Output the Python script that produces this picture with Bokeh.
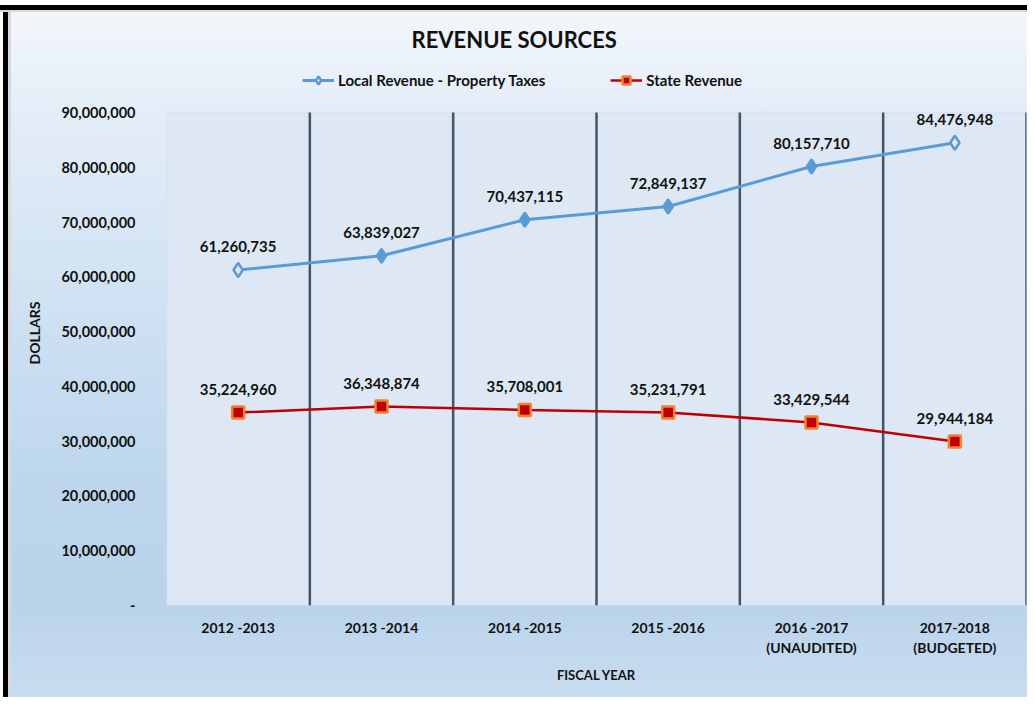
from bokeh.plotting import figure
from bokeh.models import (ColumnDataSource, FixedTicker, NumeralTickFormatter, Range1d,
                          LabelSet, Legend, BoxAnnotation)
from bokeh.embed import file_html
from bokeh.resources import INLINE
from bokeh.core.properties import value

# ---- data ----
categories = ["2012 -2013", "2013 -2014", "2014 -2015", "2015 -2016",
              "2016 -2017\n(UNAUDITED)", "2017-2018\n(BUDGETED)"]
local_revenue = [61260735, 63839027, 70437115, 72849137, 80157710, 84476948]
state_revenue = [35224960, 36348874, 35708001, 35231791, 33429544, 29944184]
y_ticks = [0, 10000000, 20000000, 30000000, 40000000, 50000000,
           60000000, 70000000, 80000000, 90000000]
series_names = ["Local Revenue - Property Taxes", "State Revenue"]

FONT = "Lato"
n = len(categories)
x_pos = [i + 0.5 for i in range(n)]
bounds = list(range(1, n + 1))
y_top = y_ticks[-1]
y_view_top = 99500000  # headroom above the plot panel for the legend

local_fill = ["#dde8f4", "#5b9bd5", "#5b9bd5", "#5b9bd5", "#5b9bd5", "#dde8f4"]

src_local = ColumnDataSource(dict(x=x_pos, y=local_revenue,
                                  lab=[f"{v:,}" for v in local_revenue], fill=local_fill))
src_state = ColumnDataSource(dict(x=x_pos, y=state_revenue,
                                  lab=[f"{v:,}" for v in state_revenue]))

p = figure(width=1027, height=697,
           x_range=Range1d(0, n), y_range=Range1d(y_ticks[0], y_view_top),
           output_backend="svg", toolbar_location=None,
           min_border_left=166, min_border_right=1, min_border_bottom=92, min_border_top=60)

p.styles = {
    "background": ("linear-gradient(180deg, #ffffff 0px, #ffffff 5px, #000000 5px, #000000 10px, "
                   "#d9d9d9 10px, #d9d9d9 12px, transparent 12px), "
                   "linear-gradient(90deg, #ffffff 0px, #ffffff 3px, #000000 3px, #000000 8px, "
                   "#d9d9d9 8px, #d9d9d9 11px, transparent 11px), "
                   "linear-gradient(180deg, #f5f8fc 0%, #e6eef8 14%, #d2e3f3 40%, #bdd6ed 70%, "
                   "#b9d3eb 86%, #c9dcef 100%)"),
}
p.border_fill_color = None
p.background_fill_color = None
p.outline_line_color = None

# plot panel (area below the top value)
p.add_layout(BoxAnnotation(left=0, right=n, bottom=y_ticks[0], top=y_top,
                           fill_color="#dde8f4", fill_alpha=1,
                           line_color="#cdd3da", line_width=2, level="underlay"))

# title
p.title.text = "REVENUE SOURCES"
p.title.text_font = FONT
p.title.text_font_size = "22px"
p.title.text_font_style = "bold"
p.title.text_color = "#111111"
p.title.align = "left"
p.title.offset = 245
p.title.standoff = 15

# grid: vertical separators between fiscal years
p.xgrid.grid_line_color = None
p.ygrid.grid_line_color = None
p.segment(x0=bounds, y0=[y_ticks[0]] * n, x1=bounds, y1=[y_top] * n,
          line_color="#46546a", line_width=2.5)

# x axis
p.xaxis.ticker = FixedTicker(ticks=x_pos)
p.xaxis.major_label_overrides = {x: c for x, c in zip(x_pos, categories)}
p.xaxis.axis_line_color = None
p.xaxis.major_tick_line_color = None
p.xaxis.minor_tick_line_color = None
p.xaxis.major_label_text_font = FONT
p.xaxis.major_label_text_font_size = "14px"
p.xaxis.major_label_text_font_style = "bold"
p.xaxis.major_label_text_color = "#111111"
p.xaxis.major_label_standoff = 7
p.xaxis.axis_label = "FISCAL YEAR"
p.xaxis.axis_label_text_font = FONT
p.xaxis.axis_label_text_font_size = "13px"
p.xaxis.axis_label_text_font_style = "bold"
p.xaxis.axis_label_text_color = "#111111"
p.xaxis.axis_label_standoff = 8

# y axis
p.yaxis.ticker = FixedTicker(ticks=y_ticks)
p.yaxis.formatter = NumeralTickFormatter(format="0,0")
p.yaxis.major_label_overrides = {y_ticks[0]: "-"}
p.yaxis.axis_line_color = None
p.yaxis.major_tick_line_color = None
p.yaxis.minor_tick_line_color = None
p.yaxis.major_label_text_font = FONT
p.yaxis.major_label_text_font_size = "14.5px"
p.yaxis.major_label_text_font_style = "bold"
p.yaxis.major_label_text_color = "#111111"
p.yaxis.major_label_standoff = 25
p.yaxis.axis_label = "DOLLARS"
p.yaxis.axis_label_text_font = FONT
p.yaxis.axis_label_text_font_size = "14px"
p.yaxis.axis_label_text_font_style = "bold"
p.yaxis.axis_label_text_color = "#111111"
p.yaxis.axis_label_standoff = 15

# series
l1 = p.line("x", "y", source=src_local, line_color="#5b9bd5", line_width=3)
m1 = p.scatter("x", "y", source=src_local, marker="diamond", size=14,
               fill_color="fill", line_color="#5b9bd5", line_width=2.5)
l2 = p.line("x", "y", source=src_state, line_color="#c00000", line_width=2.5)
m2 = p.scatter("x", "y", source=src_state, marker="square", size=12,
               fill_color="#c00000", line_color="#f0832f", line_width=2.5)

for src in (src_local, src_state):
    p.add_layout(LabelSet(x="x", y="y", text="lab", source=src, y_offset=23,
                          text_align="center", text_baseline="middle",
                          text_font=value(FONT), text_font_size="15px",
                          text_font_style="bold", text_color="#111111"))

legend = Legend(items=[(series_names[0], [l1, m1]), (series_names[1], [l2, m2])],
                orientation="horizontal", location=(136, 515),
                border_line_color=None, background_fill_alpha=0,
                label_text_font=FONT, label_text_font_size="15px",
                label_text_font_style="bold", label_text_color="#111111",
                glyph_width=32, glyph_height=20, label_standoff=4,
                spacing=65, padding=4, margin=0)
p.add_layout(legend, "center")

open("out.html", "w").write(file_html(p, INLINE))
